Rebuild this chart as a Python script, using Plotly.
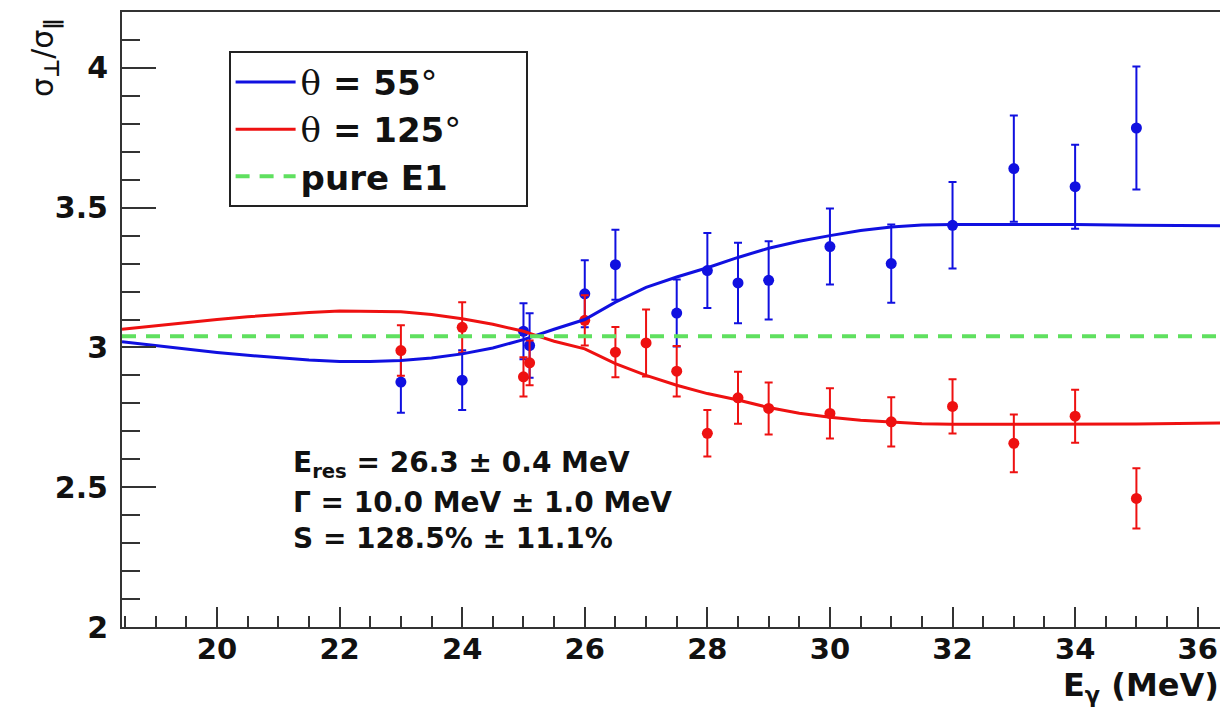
import plotly.graph_objects as go

# ---------------- data ----------------
blue_x = [23, 24, 25, 25.1, 26, 26.5, 27.5, 28, 28.5, 29, 30, 31, 32, 33, 34, 35]
blue_y = [2.876, 2.883, 3.058, 3.007, 3.192, 3.296, 3.123, 3.275, 3.231, 3.24,
          3.361, 3.30, 3.437, 3.64, 3.575, 3.785]
blue_err = [0.11, 0.107, 0.10, 0.115, 0.12, 0.125, 0.12, 0.134, 0.144, 0.14,
            0.136, 0.14, 0.155, 0.19, 0.15, 0.22]

red_x = [23, 24, 25, 25.1, 26, 26.5, 27, 27.5, 28, 28.5, 29, 30, 31, 32, 33, 34, 35]
red_y = [2.989, 3.072, 2.895, 2.945, 3.097, 2.983, 3.016, 2.915, 2.693, 2.82,
         2.782, 2.764, 2.734, 2.789, 2.657, 2.754, 2.46]
red_err = [0.09, 0.09, 0.07, 0.08, 0.09, 0.09, 0.12, 0.09, 0.083, 0.093,
           0.093, 0.09, 0.088, 0.097, 0.103, 0.095, 0.108]

fit_x = [18.45, 19, 19.5, 20, 20.5, 21, 21.5, 22, 22.5, 23, 23.5, 24, 24.5, 25,
         25.2, 25.5, 26, 26.5, 27, 27.5, 28, 28.5, 29, 29.5, 30, 30.5, 31, 31.5,
         32, 33, 34, 35, 36.38]
fit55 = [3.02, 3.006, 2.993, 2.982, 2.972, 2.963, 2.955, 2.950, 2.950, 2.953,
         2.962, 2.977, 2.998, 3.028, 3.043, 3.065, 3.10, 3.162, 3.215, 3.252,
         3.285, 3.322, 3.355, 3.38, 3.40, 3.418, 3.431, 3.438, 3.44, 3.44,
         3.44, 3.437, 3.435]
fit125 = [3.065, 3.078, 3.09, 3.10, 3.11, 3.118, 3.125, 3.13, 3.13, 3.128,
          3.118, 3.103, 3.083, 3.058, 3.043, 3.022, 2.995, 2.942, 2.90, 2.865,
          2.835, 2.812, 2.785, 2.765, 2.75, 2.74, 2.733, 2.727, 2.725, 2.725,
          2.725, 2.726, 2.73]
pure_e1 = 3.04

x_range = [18.45, 36.38]
y_range = [2.0, 4.2]

stats_lines = ["E<sub>res</sub> = 26.3 ± 0.4 MeV",
               "Γ = 10.0 MeV ± 1.0 MeV",
               "S = 128.5% ± 11.1%"]
legend_names = ["θ = 55°", "θ = 125°", "pure E1"]

BLUE = "#1010e0"
RED = "#ee1111"
GREEN = "#5fe05f"
FONT = "DejaVu Sans, Arial, sans-serif"
PAD = "\u00a0" * 5

fig = go.Figure()

fig.add_trace(go.Scatter(
    x=blue_x, y=blue_y, mode="markers", showlegend=False,
    marker=dict(color=BLUE, size=11),
    error_y=dict(type="data", array=blue_err, color=BLUE, thickness=2, width=4)))
fig.add_trace(go.Scatter(
    x=red_x, y=red_y, mode="markers", showlegend=False,
    marker=dict(color=RED, size=11),
    error_y=dict(type="data", array=red_err, color=RED, thickness=2, width=4)))


def legname(s):
    s = s.replace("θ", "<span style='font-family:DejaVu Serif;font-weight:normal'>θ</span>")
    s = s.replace("°", "<span style='font-weight:normal'>°</span>")
    return s + PAD


fig.add_trace(go.Scatter(
    x=fit_x, y=fit55, mode="lines", name=legname(legend_names[0]),
    line=dict(color=BLUE, width=3), legendgroup="a"))
fig.add_trace(go.Scatter(
    x=fit_x, y=fit125, mode="lines", name=legname(legend_names[1]),
    line=dict(color=RED, width=3), legendgroup="b"))
fig.add_trace(go.Scatter(
    x=x_range, y=[pure_e1, pure_e1], mode="lines", name=legname(legend_names[2]),
    line=dict(color=GREEN, width=4, dash="14px,10px"), legendgroup="c"))

ann = []
for i, t in enumerate(stats_lines):
    ann.append(dict(text=t, xref="paper", yref="paper", x=0.1538,
                    y=[0.265, 0.202, 0.144][i], xanchor="left", yanchor="middle",
                    showarrow=False, font=dict(family=FONT, size=28, color="#111",
                                               weight="bold")))
ann.append(dict(text="E<sub>γ</sub> (MeV)", xref="paper", yref="paper", x=1.0,
                y=-0.097, xanchor="right", yanchor="middle", showarrow=False,
                font=dict(family=FONT, size=32, color="#111", weight="bold")))
ann.append(dict(text="σ<sub><b>⊥</b></sub>/σ<sub><b>∥</b></sub>", xref="paper",
                yref="paper", x=-0.07, y=0.992, xanchor="center", yanchor="top",
                textangle=-90, showarrow=False,
                font=dict(family=FONT, size=30, color="#111")))

fig.update_layout(
    width=1220, height=699,
    margin=dict(l=114, r=7, t=2, b=80),
    paper_bgcolor="white", plot_bgcolor="white",
    annotations=ann,
    legend=dict(x=0.097, y=0.936, xanchor="left", yanchor="top",
                bordercolor="#222", borderwidth=2, bgcolor="white",
                font=dict(family=FONT, size=34, color="#111", weight="bold"),
                traceorder="grouped", tracegroupgap=0, itemwidth=60),
    xaxis=dict(range=x_range, dtick=2, tick0=20, ticks="inside", ticklen=20,
               tickwidth=2, tickcolor="#333", showgrid=False, zeroline=False,
               showline=True, linecolor="#333", linewidth=2, mirror=True,
               tickfont=dict(family=FONT, size=29, color="#111", weight="bold"),
               ticklabelstandoff=-5,
               minor=dict(dtick=0.5, ticks="inside", ticklen=11, tickwidth=2,
                          tickcolor="#333")),
    yaxis=dict(range=y_range, dtick=0.5, tick0=2, ticks="inside", ticklen=34,
               tickwidth=2, tickcolor="#333", showgrid=False, zeroline=False,
               showline=True, linecolor="#333", linewidth=2, mirror=True,
               tickfont=dict(family=FONT, size=30, color="#111", weight="bold"),
               ticklabelstandoff=6,
               minor=dict(dtick=0.1, ticks="inside", ticklen=18, tickwidth=2,
                          tickcolor="#333")),
)

fig.write_html("out.html")
